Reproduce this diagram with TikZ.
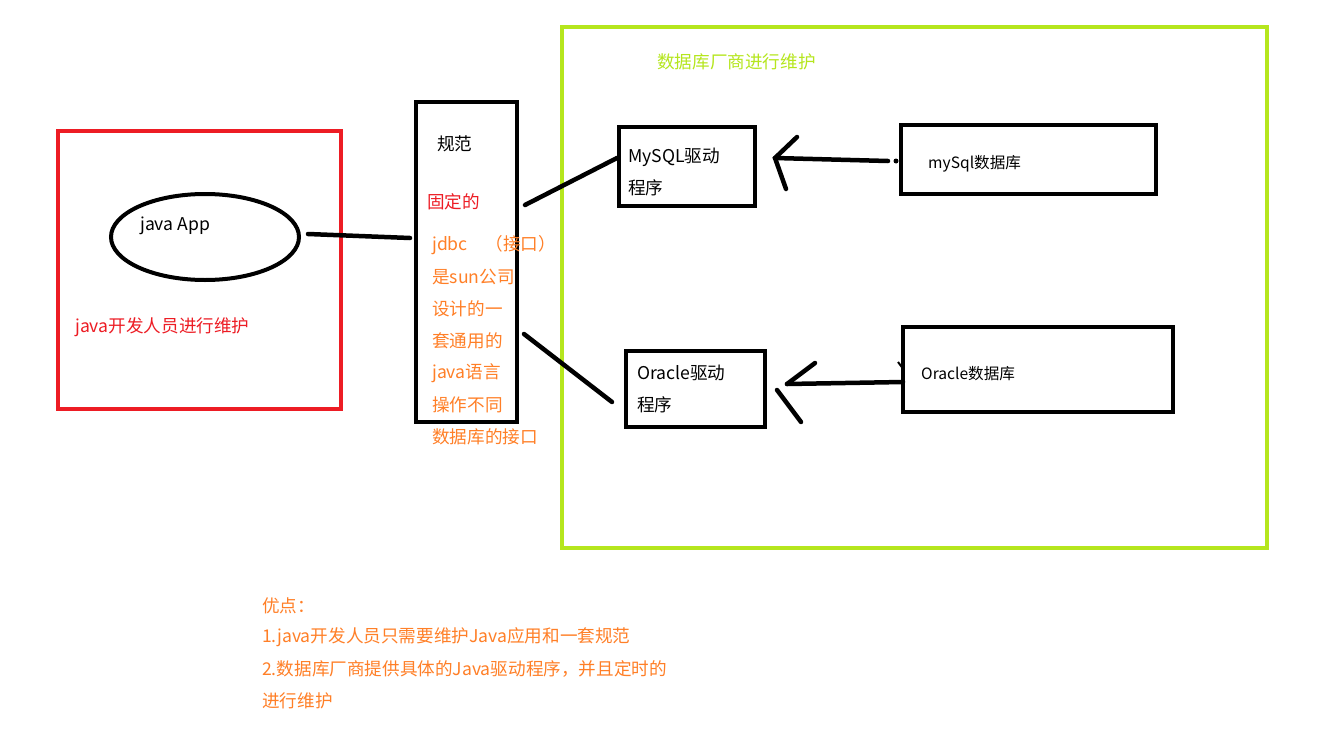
\documentclass[tikz,border=0pt]{standalone}
\usepackage{fontspec}
\usetikzlibrary{shapes.geometric}
\setmainfont{Noto Sans CJK SC}
\definecolor{pred}{HTML}{ED1C24}
\definecolor{plime}{HTML}{B5E61D}
\definecolor{porange}{HTML}{FF7F27}
\begin{document}
\begin{tikzpicture}[x=1pt,y=-1pt,
  txt/.style={anchor=west,inner sep=0pt,font=\fontsize{17.6}{20}\selectfont},
  small/.style={anchor=west,inner sep=0pt,font=\fontsize{15.6}{18}\selectfont},
  wire/.style={line width=4.5pt,line cap=round}]
\useasboundingbox (0,0) rectangle (1344,736);
\fill[white] (0,0) rectangle (1344,736);
% frames
\draw[pred,line width=4pt] (58,131) rectangle (341,409);
\draw[plime,line width=4.5pt] (562,27) rectangle (1267,548);
% nodes
\node[draw,ellipse,line width=4pt,minimum width=188pt,minimum height=86pt,inner sep=0pt] (app) at (205,237) {};
\node[txt] (apptxt) at (140,226) {java App};
\node[txt,text=pred] (devtxt) at (75,327) {java开发人员进行维护};
\draw[line width=4.5pt] (416,102) rectangle (517,422);
\node[txt] (spectxt) at (437,144) {规范};
\node[txt,text=pred] (fixed) at (427,202) {固定的};
\node[txt,text=porange] (l1) at (432,245) {jdbc\hspace{18pt}（接口）};
\node[txt,text=porange] (l2) at (432,277) {是sun公司};
\node[txt,text=porange] (l3) at (432,309) {设计的一};
\node[txt,text=porange] (l4) at (432,341) {套通用的};
\node[txt,text=porange] (l5) at (432,373) {java语言};
\node[txt,text=porange] (l6) at (432,405) {操作不同};
\node[txt,text=porange] (l7) at (432,437) {数据库的接口};
\node[txt,text=plime] (vendor) at (657,62) {数据库厂商进行维护};
% driver boxes
\draw[line width=4.5pt] (619,127) rectangle (755,206);
\node[txt] (my1) at (628,157) {MySQL驱动};
\node[txt] (my2) at (628,188) {程序};
\draw[line width=4.5pt] (626,351) rectangle (765,427);
\node[txt] (or1) at (637,373) {Oracle驱动};
\node[txt] (or2) at (637,405) {程序};
% db boxes
\draw[line width=4.5pt] (901,125) rectangle (1156,194);
\node[small] (mydb) at (928,164) {mySql数据库};
\draw[line width=4.5pt] (903,327) rectangle (1173,412);
\node[small] (ordb) at (921,374) {Oracle数据库};
% connectors
\coordinate (a1) at (308,234);
\coordinate (a2) at (410,238);
\draw[wire] (a1) -- (a2);
\coordinate (b1) at (525,205);
\coordinate (b2) at (617,158);
\draw[wire] (b1) -- (b2);
\coordinate (c1) at (524,334);
\coordinate (c2) at (612,402);
\draw[wire] (c1) -- (c2);
% mysql arrow
\coordinate (m0) at (888,161);
\coordinate (m1) at (775,158);
\draw[wire] (m0) -- (m1);
\draw[wire] (797,137) -- (m1) -- (786,189);
\fill (896,161) circle (2.5pt);
% oracle arrow
\coordinate (o0) at (903,382);
\coordinate (o1) at (787,384);
\draw[wire] (o0) -- (o1);
\draw[wire] (o1) -- (815,363);
\draw[wire] (777,390) -- (801,422);
\draw[line width=2pt] (898,362) -- (904,370);
% bottom notes
\node[txt,text=porange] (n0) at (262,606) {优点：};
\node[txt,text=porange] (n1) at (262,637) {1.java开发人员只需要维护Java应用和一套规范};
\node[txt,text=porange] (n2) at (262,669) {2.数据库厂商提供具体的Java驱动程序，并且定时的};
\node[txt,text=porange] (n3) at (262,701) {进行维护};
\end{tikzpicture}
\end{document}
